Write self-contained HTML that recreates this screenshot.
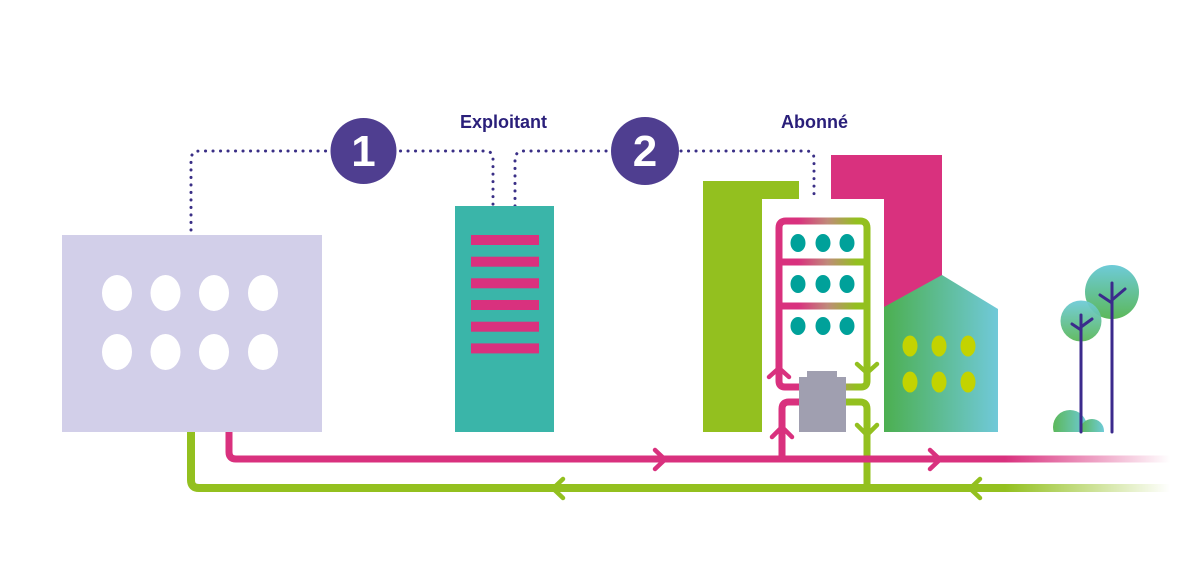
<!DOCTYPE html>
<html>
<head>
<meta charset="utf-8">
<style>
html,body{margin:0;padding:0;background:#fff;}
svg{display:block;}
</style>
</head>
<body>
<svg width="1200" height="587" viewBox="0 0 1200 587" xmlns="http://www.w3.org/2000/svg">
<defs>
  <linearGradient id="frameG" gradientUnits="userSpaceOnUse" x1="779" y1="0" x2="867" y2="0">
    <stop offset="0.22" stop-color="#d9317e"/>
    <stop offset="0.55" stop-color="#c08a7a"/>
    <stop offset="0.88" stop-color="#93c01f"/>
  </linearGradient>
  <linearGradient id="houseG" x1="0" y1="0" x2="1" y2="0">
    <stop offset="0" stop-color="#4caf50"/>
    <stop offset="1" stop-color="#70c9d9"/>
  </linearGradient>
  <linearGradient id="treeG" x1="0" y1="0" x2="0" y2="1">
    <stop offset="0" stop-color="#6ecbd8"/>
    <stop offset="1" stop-color="#5cb85a"/>
  </linearGradient>
  <linearGradient id="bushG" x1="0" y1="0" x2="1" y2="0">
    <stop offset="0" stop-color="#5cb85a"/>
    <stop offset="1" stop-color="#6ecbd8"/>
  </linearGradient>
  <linearGradient id="pinkFade" gradientUnits="userSpaceOnUse" x1="1005" y1="0" x2="1170" y2="0">
    <stop offset="0" stop-color="#d9317e" stop-opacity="1"/>
    <stop offset="1" stop-color="#d9317e" stop-opacity="0"/>
  </linearGradient>
  <linearGradient id="greenFade" gradientUnits="userSpaceOnUse" x1="1005" y1="0" x2="1170" y2="0">
    <stop offset="0" stop-color="#93c01f" stop-opacity="1"/>
    <stop offset="1" stop-color="#93c01f" stop-opacity="0"/>
  </linearGradient>
  <clipPath id="bushClip"><rect x="1040" y="380" width="100" height="52"/></clipPath>
</defs>

<!-- dotted connectors -->
<g fill="none" stroke="#3a2f86" stroke-width="3" stroke-linecap="round" stroke-dasharray="0.1 7.4">
  <path d="M191,230 V160 Q191,151 200,151 H485 Q493,151 493,159 V206"/>
  <path d="M515,206 V160 Q515,151 524,151 H806 Q814,151 814,159 V199"/>
</g>

<!-- numbered circles -->
<circle cx="363.5" cy="151" r="33" fill="#4f3e90"/>
<circle cx="645" cy="151" r="34" fill="#4f3e90"/>
<text x="363.5" y="166" font-family="Liberation Sans, sans-serif" font-weight="bold" font-size="44" fill="#fff" text-anchor="middle">1</text>
<text x="645" y="166" font-family="Liberation Sans, sans-serif" font-weight="bold" font-size="44" fill="#fff" text-anchor="middle">2</text>

<!-- labels -->
<text x="460" y="128" font-family="Liberation Sans, sans-serif" font-weight="bold" font-size="18" fill="#2a1f7a">Exploitant</text>
<text x="781" y="128" font-family="Liberation Sans, sans-serif" font-weight="bold" font-size="18" fill="#2a1f7a">Abonné</text>

<!-- left building -->
<rect x="62" y="235" width="260" height="197" fill="#d2cfe9"/>
<g fill="#fff">
  <ellipse cx="117" cy="293" rx="15" ry="18"/>
  <ellipse cx="165.5" cy="293" rx="15" ry="18"/>
  <ellipse cx="214" cy="293" rx="15" ry="18"/>
  <ellipse cx="263" cy="293" rx="15" ry="18"/>
  <ellipse cx="117" cy="352" rx="15" ry="18"/>
  <ellipse cx="165.5" cy="352" rx="15" ry="18"/>
  <ellipse cx="214" cy="352" rx="15" ry="18"/>
  <ellipse cx="263" cy="352" rx="15" ry="18"/>
</g>

<!-- teal building -->
<rect x="455" y="206" width="99" height="226" fill="#3ab5a9"/>
<g fill="#d9317e">
  <rect x="471" y="235" width="68" height="10"/>
  <rect x="471" y="256.7" width="68" height="10"/>
  <rect x="471" y="278.3" width="68" height="10"/>
  <rect x="471" y="300" width="68" height="10"/>
  <rect x="471" y="321.7" width="68" height="10"/>
  <rect x="471" y="343.4" width="68" height="10"/>
</g>

<!-- subscriber buildings -->
<rect x="703" y="181" width="96" height="251" fill="#93c01f"/>
<rect x="831" y="155" width="111" height="160" fill="#d9317e"/>
<rect x="762" y="199" width="122" height="233" fill="#fff"/>
<path d="M884,307 L942,275 L998,309 V432 H884 Z" fill="url(#houseG)"/>
<g fill="#c3d300">
  <ellipse cx="910" cy="346" rx="7.5" ry="10.5"/>
  <ellipse cx="939" cy="346" rx="7.5" ry="10.5"/>
  <ellipse cx="968" cy="346" rx="7.5" ry="10.5"/>
  <ellipse cx="910" cy="382" rx="7.5" ry="10.5"/>
  <ellipse cx="939" cy="382" rx="7.5" ry="10.5"/>
  <ellipse cx="968" cy="382" rx="7.5" ry="10.5"/>
</g>

<!-- main pipes -->
<path d="M191,432 V480 Q191,488 199,488 H1005" fill="none" stroke="#93c01f" stroke-width="8"/>
<path d="M1005,488 H1170" fill="none" stroke="url(#greenFade)" stroke-width="8"/>
<path d="M846,402 H860 Q867,402 867,409 V488" fill="none" stroke="#93c01f" stroke-width="7"/>
<path d="M229,432 V452 Q229,459 236,459 H1005" fill="none" stroke="#d9317e" stroke-width="7"/>
<path d="M1005,459 H1170" fill="none" stroke="url(#pinkFade)" stroke-width="7"/>
<path d="M800,402 H789 Q782,402 782,409 V459" fill="none" stroke="#d9317e" stroke-width="7"/>

<!-- main arrows -->
<g fill="none" stroke-width="4.5" stroke-linecap="round" stroke-linejoin="round">
  <polyline points="655,450 665,459.5 655,469" stroke="#d9317e"/>
  <polyline points="930,450 940,459.5 930,469" stroke="#d9317e"/>
  <polyline points="563,479 553,488.5 563,498" stroke="#93c01f"/>
  <polyline points="980,479 970,488.5 980,498" stroke="#93c01f"/>
  <polyline points="772,437 782,427 792,437" stroke="#d9317e"/>
  <polyline points="857,425 867,435 877,425" stroke="#93c01f"/>
</g>

<!-- inner frame pipes -->
<path d="M800,387 H785 Q779,387 779,381 V228 Q779,221 786,221 H860 Q867,221 867,228 V381 Q867,387 861,387 H846" fill="none" stroke="url(#frameG)" stroke-width="7"/>
<line x1="779" y1="262" x2="867" y2="262" stroke="url(#frameG)" stroke-width="7"/>
<line x1="779" y1="306" x2="867" y2="306" stroke="url(#frameG)" stroke-width="7"/>
<g fill="#00a19a">
  <ellipse cx="798" cy="243" rx="7.5" ry="9"/>
  <ellipse cx="823" cy="243" rx="7.5" ry="9"/>
  <ellipse cx="847" cy="243" rx="7.5" ry="9"/>
  <ellipse cx="798" cy="284" rx="7.5" ry="9"/>
  <ellipse cx="823" cy="284" rx="7.5" ry="9"/>
  <ellipse cx="847" cy="284" rx="7.5" ry="9"/>
  <ellipse cx="798" cy="326" rx="7.5" ry="9"/>
  <ellipse cx="823" cy="326" rx="7.5" ry="9"/>
  <ellipse cx="847" cy="326" rx="7.5" ry="9"/>
</g>
<g fill="none" stroke-width="4.5" stroke-linecap="round" stroke-linejoin="round">
  <polyline points="769,377 779,368 789,377" stroke="#d9317e"/>
  <polyline points="857,364 867,373 877,364" stroke="#93c01f"/>
</g>

<!-- gray unit -->
<path d="M807,371 H837 V377 H846 V432 H799 V377 H807 Z" fill="#a09fb0"/>

<!-- trees -->
<circle cx="1112" cy="292" r="27" fill="url(#treeG)"/>
<circle cx="1081" cy="321" r="20.5" fill="url(#treeG)" opacity="0.95"/>
<g clip-path="url(#bushClip)">
  <circle cx="1070" cy="427" r="17" fill="url(#bushG)"/>
  <circle cx="1092" cy="431" r="12" fill="url(#bushG)"/>
</g>
<g fill="none" stroke="#3b2a8c" stroke-width="3" stroke-linecap="round">
  <line x1="1112" y1="283" x2="1112" y2="432"/>
  <polyline points="1100,295 1112,303"/>
  <polyline points="1112,300 1125,289"/>
  <line x1="1081" y1="315" x2="1081" y2="432"/>
  <polyline points="1072,324 1081,330"/>
  <polyline points="1081,327 1092,319"/>
</g>
</svg>
</body>
</html>
